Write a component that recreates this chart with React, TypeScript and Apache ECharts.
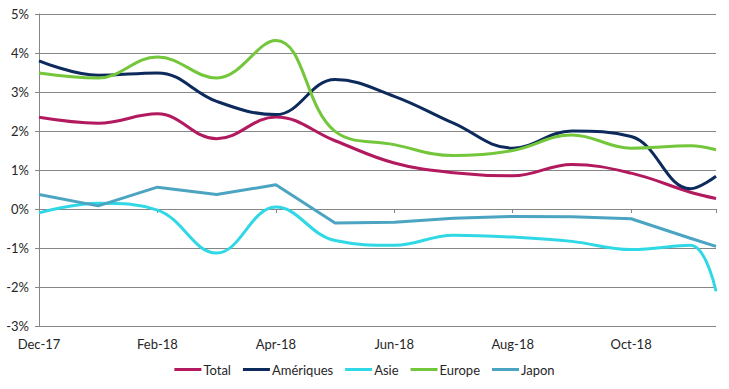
import React, { useEffect, useRef } from "react";
import * as echarts from "echarts";

// Observation dates (monthly, last one mid-November)
const dates = [
  "2017-12-01", "2018-01-01", "2018-02-01", "2018-03-01", "2018-04-01", "2018-05-01",
  "2018-06-01", "2018-07-01", "2018-08-01", "2018-09-01", "2018-10-01", "2018-11-01", "2018-11-14",
];
const tickLabels = ["Dec-17", "Feb-18", "Apr-18", "Jun-18", "Aug-18", "Oct-18"];
const seriesNames = ["Total", "Amériques", "Asie", "Europe", "Japon"];

const total = [2.35, 2.2, 2.44, 1.8, 2.36, 1.75, 1.18, 0.93, 0.85, 1.14, 0.92, 0.43, 0.27];
const ameriques = [3.8, 3.43, 3.49, 2.76, 2.42, 3.32, 2.89, 2.2, 1.56, 2.0, 1.86, 0.52, 0.84];
const asie = [-0.1, 0.15, -0.03, -1.13, 0.05, -0.81, -0.93, -0.67, -0.72, -0.83, -1.04, -0.93, -2.11];
const europe = [3.49, 3.36, 3.9, 3.36, 4.32, 1.99, 1.65, 1.37, 1.5, 1.9, 1.56, 1.62, 1.52];
const japon = [0.37, 0.08, 0.56, 0.37, 0.62, -0.36, -0.34, -0.24, -0.19, -0.2, -0.25, -0.75, -0.96];

const colors = ["#B2195E", "#0C2A5C", "#30D8E6", "#74C63B", "#4BA4C2"];

// month index since Dec-17 (fractional for mid-month dates)
const toMonthIndex = (d: string) => {
  const [y, m, day] = d.split("-").map(Number);
  return (y - 2017) * 12 + (m - 12) + (day - 1) / 30;
};
const xs = dates.map(toMonthIndex);

const FONT = "Lato, 'Open Sans', sans-serif";
const TEXT = "#262626";

export default function App() {
  const ref = useRef<HTMLDivElement>(null);
  useEffect(() => {
    document.body.style.margin = "0";
    if (!ref.current) return;
    const chart = echarts.init(ref.current, undefined, { renderer: "svg" });
    const valuesList = [total, ameriques, asie, europe, japon];
    const xMax = xs[xs.length - 1];
    chart.setOption({
      animation: false,
      backgroundColor: "#ffffff",
      textStyle: { fontFamily: FONT },
      grid: { left: 39, right: 13, top: 14, bottom: 63, containLabel: false },
      legend: {
        bottom: 8,
        left: "center",
        icon: "rect",
        itemWidth: 27,
        itemHeight: 3,
        itemGap: 12,
        textStyle: { fontFamily: FONT, fontSize: 13, color: TEXT, padding: [0, 0, 0, -3] },
        data: seriesNames,
      },
      xAxis: [
        {
          type: "value",
          min: 0,
          max: xMax,
          interval: 2,
          position: "bottom",
          axisLine: { show: false, onZero: false },
          axisTick: { show: false },
          splitLine: { show: false },
          axisLabel: {
            margin: 11,
            color: TEXT,
            fontSize: 13,
            fontFamily: FONT,
            showMaxLabel: false,
            formatter: (v: number) => {
              const i = Math.round(v / 2);
              return Math.abs(v - i * 2) < 1e-6 ? tickLabels[i] ?? "" : "";
            },
          },
        },
        {
          type: "value",
          min: 0,
          max: xMax,
          interval: 2,
          position: "bottom",
          axisLine: { show: true, onZero: true, lineStyle: { color: "#868686", width: 1 } },
          axisTick: { show: true, length: 4, lineStyle: { color: "#868686" } },
          axisLabel: { show: false },
          splitLine: { show: false },
        },
      ],
      yAxis: {
        type: "value",
        min: -3,
        max: 5,
        interval: 1,
        axisLine: { show: true, lineStyle: { color: "#868686", width: 1 } },
        axisTick: { show: true, length: 4, lineStyle: { color: "#868686" } },
        splitLine: { show: true, lineStyle: { color: "#868686", width: 1 } },
        axisLabel: { color: TEXT, fontSize: 13, fontFamily: FONT, margin: 10, formatter: "{value}%" },
      },
      series: seriesNames.map((name, k) => ({
        name,
        type: "line",
        xAxisIndex: 0,
        data: valuesList[k].map((v, i) => [xs[i], v]),
        smooth: name === "Japon" ? false : 0.4,
        showSymbol: false,
        symbol: "none",
        lineStyle: { color: colors[k], width: 3 },
        itemStyle: { color: colors[k] },
      })),
    });
    return () => chart.dispose();
  }, []);
  return <div ref={ref} style={{ width: 729, height: 389 }} />;
}
